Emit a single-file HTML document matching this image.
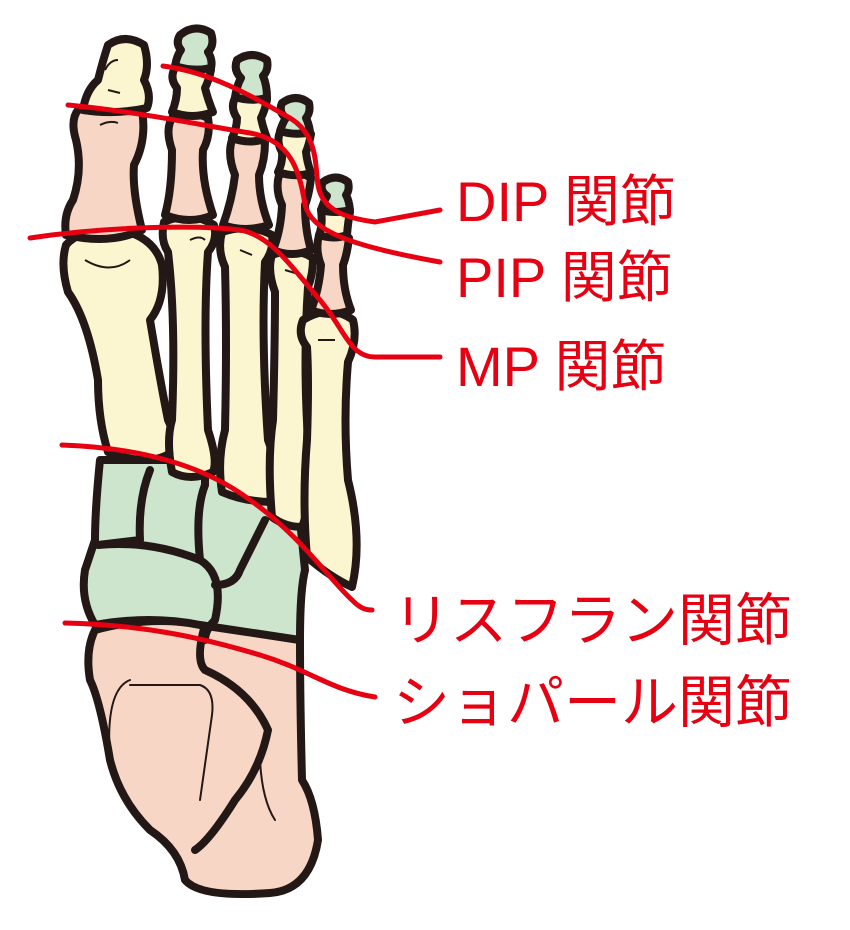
<!DOCTYPE html>
<html><head><meta charset="utf-8"><style>
html,body{margin:0;padding:0;background:#fff}
svg{display:block}
text{font-family:"Liberation Sans","Noto Sans CJK JP",sans-serif;fill:#e60012;font-size:56px}
text.j{font-size:57px}
</style></head><body>
<svg width="850" height="930" viewBox="0 0 850 930" xmlns="http://www.w3.org/2000/svg">
<g stroke="#231815" stroke-width="8" stroke-linejoin="round" stroke-linecap="round">
<path fill="#f8d6c5" d="M95,630 Q150,615 205,625 L300,640 Q300,700 302,780 Q315,800 318,840 Q310,890 270,893 Q200,898 185,880 Q180,850 150,830 Q120,800 110,760 Q100,700 90,680 Q85,650 95,630Z"/>
<path fill="none" d="M205,625 Q195,660 205,670 Q250,690 268,730 Q260,770 235,800 Q210,840 195,850"/>
<path fill="none" stroke-width="2" d="M130,680 Q105,690 110,760 M130,685 L200,685 Q215,690 212,715 L200,800 M260,760 Q262,800 275,820"/>
<path fill="#cde4cd" d="M95,540 Q95,510 100,460 L200,460 L300,520 L305,570 Q300,590 300,640 L200,625 Q150,615 95,625 Q80,600 85,570 Z"/>
<path fill="none" d="M98,545 Q150,540 200,560 Q225,575 215,620 Q205,630 205,640 M200,560 Q195,510 205,485 L205,470 M215,585 Q235,585 240,570 L265,520 M98,545 L140,540 Q138,500 150,470"/>
<path fill="#fbf6cf" d="M66,245 Q80,228 122,230 Q155,238 162,265 Q166,300 150,320 Q160,380 168,420 Q178,440 172,452 Q150,468 108,452 Q98,420 98,380 Q88,320 68,292 Q60,265 66,245Z"/>
<path fill="#fbf6cf" d="M164,222 Q190,210 214,225 Q218,240 208,252 Q203,320 208,430 Q218,460 213,472 Q190,482 172,472 Q166,440 172,420 Q176,320 168,252 Q160,240 164,222Z"/>
<path fill="#fbf6cf" d="M222,232 Q250,223 272,235 Q274,250 265,262 Q261,340 268,440 Q283,480 273,502 Q245,502 222,492 Q217,460 225,430 Q227,340 225,267 Q217,250 222,232Z"/>
<path fill="#fbf6cf" d="M272,255 Q295,246 313,258 Q313,275 308,287 Q303,360 308,440 Q313,500 302,527 Q285,527 272,517 Q267,460 273,420 Q275,340 275,292 Q267,270 272,255Z"/>
<path fill="#fbf6cf" d="M303,320 Q330,303 353,320 Q358,340 348,362 Q343,420 348,480 Q363,540 352,587 Q330,577 307,557 Q302,500 307,440 Q309,380 307,347 Q297,335 303,320Z"/>
<path fill="#f8d6c5" d="M78,110 Q110,98 142,110 Q147,140 134,165 Q132,190 142,230 Q110,245 66,235 Q63,215 73,200 Q83,170 76,140 Q70,120 78,110Z"/>
<path fill="#f8d6c5" d="M172,118 Q192,110 208,118 Q211,135 203,150 Q201,180 213,215 Q190,225 165,215 Q172,190 172,150 Q165,130 172,118Z"/>
<path fill="#f8d6c5" d="M232,140 Q250,133 265,142 Q265,160 259,175 Q259,200 269,225 Q245,233 223,225 Q232,200 235,175 Q227,155 232,140Z"/>
<path fill="#f8d6c5" d="M279,175 Q296,168 311,178 Q309,195 305,205 Q305,230 311,250 Q292,258 273,250 Q281,230 282,205 Q275,190 279,175Z"/>
<path fill="#f8d6c5" d="M319,235 Q335,228 349,238 Q347,255 343,265 Q343,290 351,310 Q330,318 311,310 Q319,290 321,265 Q315,250 319,235Z"/>
<path fill="#fbf6cf" d="M175,68 Q195,60 211,70 Q209,80 205,88 Q208,100 213,112 Q192,120 172,112 Q177,100 177,88 Q169,78 175,68Z"/>
<path fill="#fbf6cf" d="M235,98 Q252,90 267,100 Q265,110 261,118 Q263,128 267,138 Q250,145 232,138 Q237,128 237,118 Q230,108 235,98Z"/>
<path fill="#fbf6cf" d="M280,132 Q296,125 311,134 Q309,145 306,152 Q307,162 311,173 Q295,178 278,172 Q283,162 282,152 Q276,142 280,132Z"/>
<path fill="#fbf6cf" d="M321,210 Q336,203 350,212 Q348,222 347,235 Q334,240 319,235 Q323,225 321,210Z"/>
<path fill="#fbf6cf" d="M108,45 Q125,33 144,45 Q150,65 144,80 Q152,95 147,108 Q115,115 83,110 Q86,90 98,80 Q103,60 108,45Z"/>
<path fill="#cde4cd" d="M180,35 Q195,23 211,33 Q215,45 208,52 Q213,60 211,68 Q193,72 175,66 Q177,55 181,50 Q175,43 180,35Z"/>
<path fill="#cde4cd" d="M237,60 Q252,50 267,60 Q269,70 263,76 Q267,85 267,98 Q250,102 235,97 Q237,85 241,78 Q233,70 237,60Z"/>
<path fill="#cde4cd" d="M282,103 Q296,93 309,103 Q311,112 306,118 Q309,124 310,132 Q295,136 280,131 Q283,122 286,118 Q278,112 282,103Z"/>
<path fill="#cde4cd" d="M323,182 Q336,173 348,182 Q350,190 346,195 Q349,200 350,210 Q335,214 321,210 Q324,201 327,196 Q319,190 323,182Z"/>
</g>
<g stroke="#231815" stroke-width="2" fill="none">
<path d="M85,260 Q110,275 130,260 M105,70 Q110,60 118,60 M108,90 L120,93 M100,125 Q110,120 118,123"/>
<path d="M190,240 Q200,235 205,240 M240,250 L252,255 M285,270 L295,273 M318,340 L335,340"/>
</g>
<g fill="none" stroke="#e60012" stroke-width="5" stroke-linecap="round">
<path d="M163,66 C210,72 250,95 290,118 C318,135 315,165 318,185 C322,210 345,218 375,222 L440,210"/>
<path d="M68,105 C140,112 200,125 250,133 C290,140 300,170 305,205 C312,230 345,245 440,262"/>
<path d="M30,238 C110,226 200,225 240,230 C270,235 290,265 320,300 C345,330 350,357 375,357 L440,357"/>
<path d="M62,445 C150,448 210,470 250,500 C300,535 330,580 352,600 C360,608 365,610 372,610"/>
<path d="M65,623 C150,625 210,640 260,655 C310,670 330,690 375,697"/>
</g>
<text x="456" y="221">DIP 関節</text>
<text x="456" y="297">PIP 関節</text>
<text x="456" y="386">MP 関節</text>
<text class="j" x="393" y="640">リスフラン関節</text>
<text class="j" x="393" y="722">ショパール関節</text>
</svg>
</body></html>
